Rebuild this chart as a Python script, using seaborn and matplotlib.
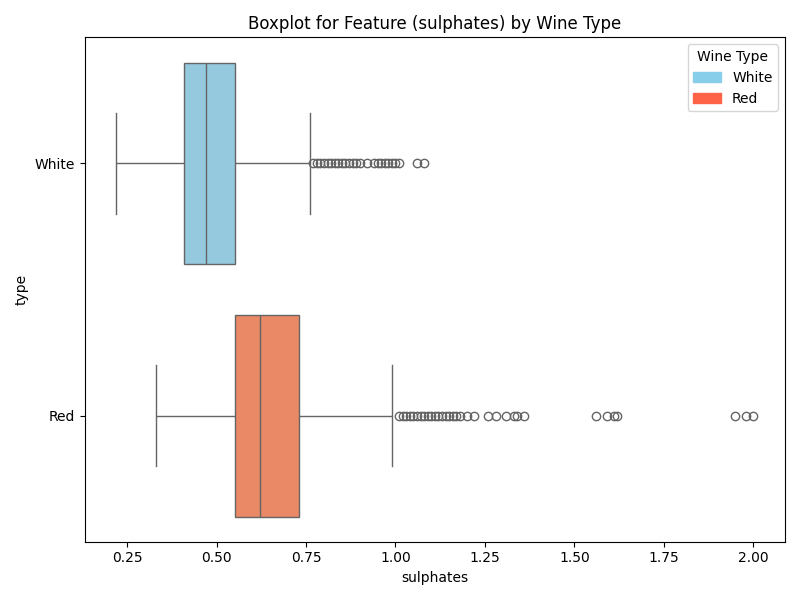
import matplotlib
matplotlib.use("Agg")
import matplotlib.pyplot as plt
import seaborn as sns
import pandas as pd
from matplotlib.patches import Patch

types = ["White", "Red"]
box_colors = {"White": "skyblue", "Red": "coral"}
legend_colors = {"White": "skyblue", "Red": "tomato"}
# box statistics: low whisker, Q1, median, Q3, high whisker
white_stats = [0.22, 0.41, 0.47, 0.55, 0.76]
red_stats = [0.33, 0.55, 0.62, 0.73, 0.99]
white_outliers = [0.77, 0.78, 0.79, 0.80, 0.81, 0.82, 0.83, 0.84, 0.85, 0.86, 0.87, 0.88,
                  0.89, 0.90, 0.92, 0.94, 0.95, 0.96, 0.97, 0.98, 0.99, 1.00, 1.01, 1.06, 1.08]
red_outliers = [1.01, 1.02, 1.03, 1.04, 1.05, 1.06, 1.07, 1.08, 1.09, 1.10, 1.11, 1.12,
                1.13, 1.14, 1.15, 1.16, 1.17, 1.18, 1.20, 1.22, 1.26, 1.28, 1.31, 1.33,
                1.34, 1.36, 1.56, 1.59, 1.61, 1.62, 1.95, 1.98, 2.00]

def build(stats, outl, n=60):
    lo, q1, med, q3, hi = stats
    return [lo] + [q1] * n + [med] * n + [q3] * n + [hi] + outl

rows = []
for t, st, ol in [("White", white_stats, white_outliers), ("Red", red_stats, red_outliers)]:
    for v in build(st, ol):
        rows.append({"type": t, "sulphates": v})
df = pd.DataFrame(rows)

fig, ax = plt.subplots(figsize=(8, 6), dpi=100)
sns.boxplot(data=df, x="sulphates", y="type", hue="type", order=types,
            palette=box_colors, legend=False, ax=ax)
ax.set_title("Boxplot for Feature (sulphates) by Wine Type")
ax.legend(handles=[Patch(color=legend_colors[t], label=t) for t in types],
          title="Wine Type", loc="upper right")
fig.tight_layout()
fig.savefig("out.png")
